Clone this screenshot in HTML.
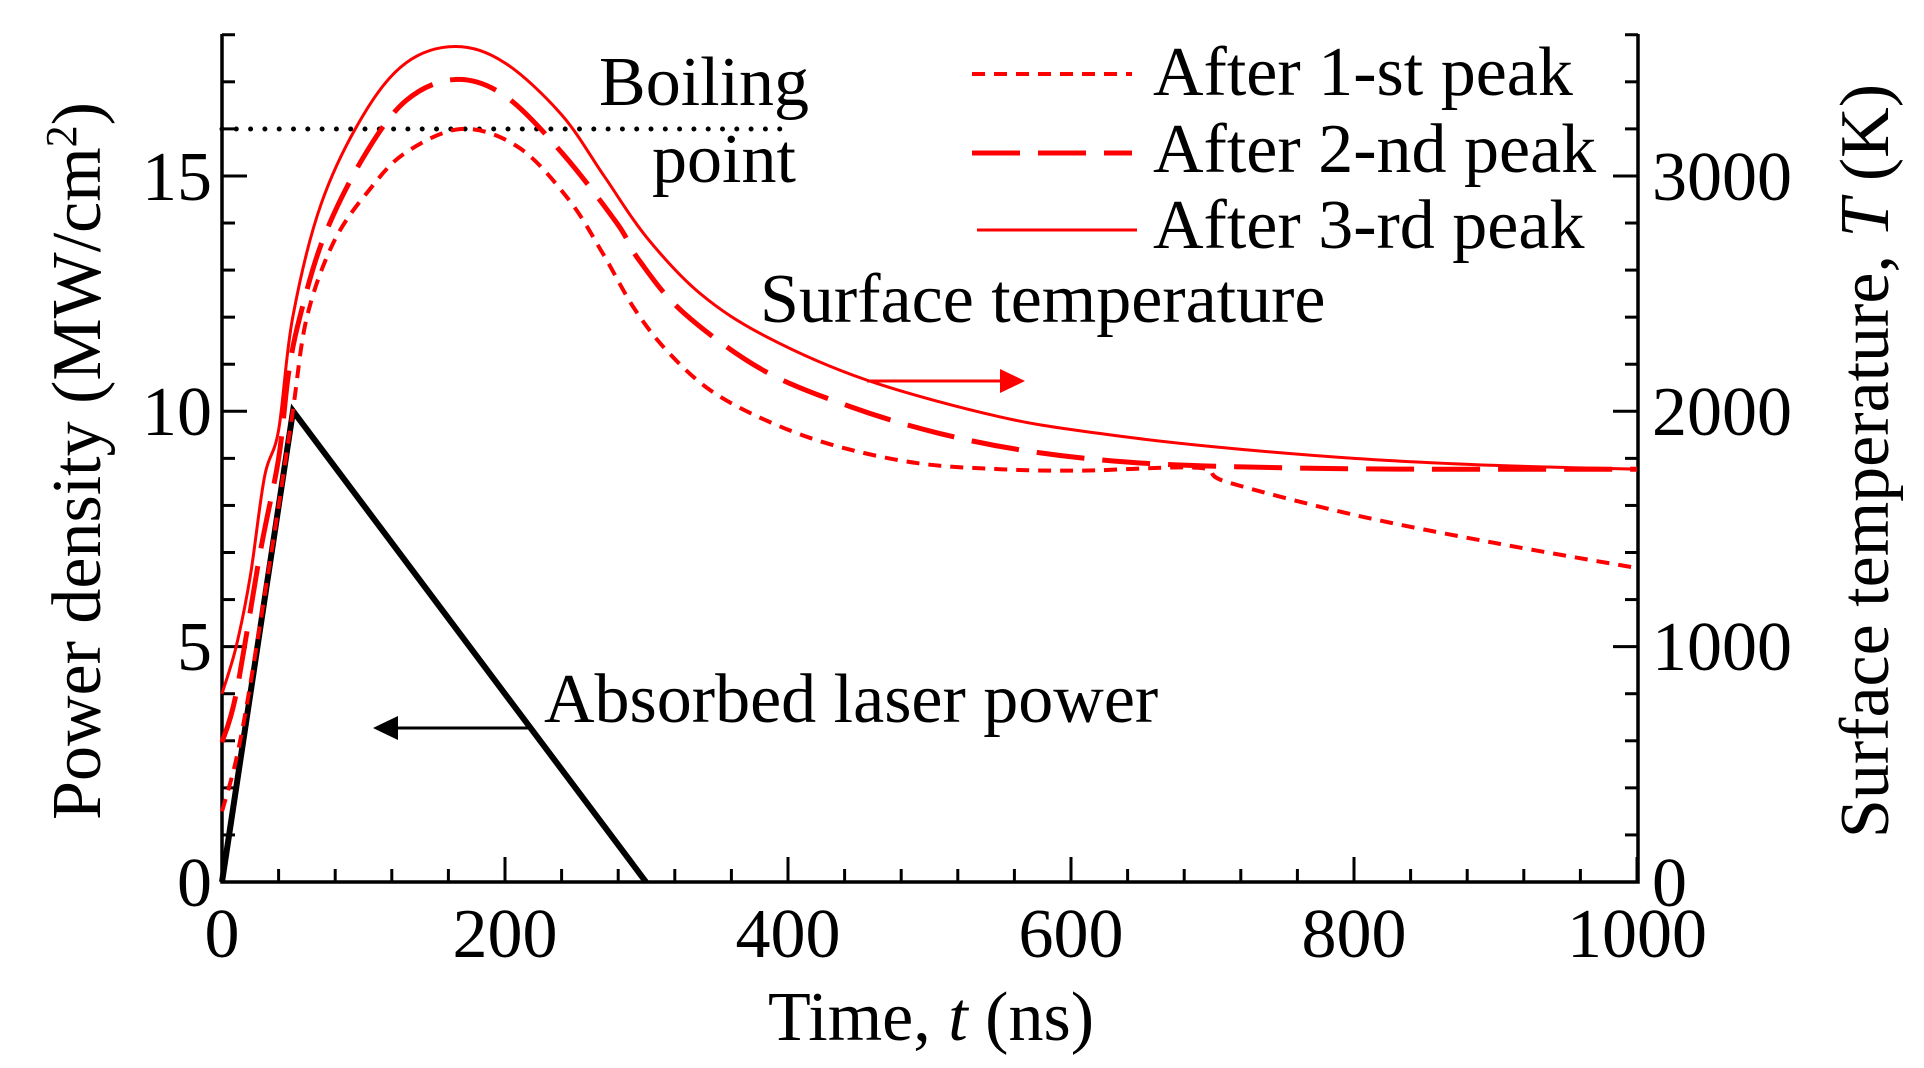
<!DOCTYPE html>
<html><head><meta charset="utf-8"><style>
html,body{margin:0;padding:0;background:#fff;}
svg{display:block;font-family:"Liberation Serif",serif;}
</style></head><body>
<svg id="s" width="1924" height="1068" viewBox="0 0 1924 1068" xmlns="http://www.w3.org/2000/svg">
<g id="ticks" stroke="#000" stroke-width="3"></g>
<path d="M222,34 V882 H1638 V34" fill="none" stroke="#000" stroke-width="3.5"/>
<line x1="222" y1="129" x2="790" y2="129" stroke="#000" stroke-width="5" stroke-linecap="round" stroke-dasharray="0 14.3"/>
<polyline points="222,882 293,411 646,882" fill="none" stroke="#000" stroke-width="6"/>
<g id="curves" fill="none" stroke="#f00"></g>
<line x1="972" y1="74" x2="1132" y2="74" stroke="#f00" stroke-width="4" stroke-dasharray="13 9"/>
<line x1="972" y1="153" x2="1132" y2="153" stroke="#f00" stroke-width="5" stroke-dasharray="48 18"/>
<line x1="977" y1="230" x2="1137" y2="230" stroke="#f00" stroke-width="3"/>
<line x1="867" y1="381" x2="1005" y2="381" stroke="#f00" stroke-width="3"/>
<polygon points="1025,381 1000,369 1000,393" fill="#f00"/>
<line x1="395" y1="728" x2="530" y2="728" stroke="#000" stroke-width="3"/>
<polygon points="373,728 398,716 398,740" fill="#000"/>
<g font-size="70" fill="#000">
<text x="1153" y="95">After 1-st peak</text>
<text x="1153" y="172">After 2-nd peak</text>
<text x="1153" y="248">After 3-rd peak</text>
<text x="599" y="105">Boiling</text>
<text x="652" y="182">point</text>
<text x="760" y="322">Surface temperature</text>
<text x="544" y="722">Absorbed laser power</text>
<text x="931" y="1040" text-anchor="middle">Time, <tspan font-style="italic">t</tspan> (ns)</text>
<g text-anchor="middle">
<text x="222" y="957">0</text><text x="505" y="957">200</text><text x="788" y="957">400</text>
<text x="1071" y="957">600</text><text x="1354" y="957">800</text><text x="1637" y="957">1000</text>
</g>
<g text-anchor="end">
<text x="212" y="906">0</text><text x="212" y="670">5</text><text x="212" y="435">10</text><text x="212" y="200">15</text>
</g>
<g>
<text x="1652" y="906">0</text><text x="1652" y="670">1000</text><text x="1652" y="435">2000</text><text x="1652" y="200">3000</text>
</g>
<text transform="translate(100,461) rotate(-90)" text-anchor="middle">Power density (MW/cm<tspan font-size="44" dy="-24">2</tspan><tspan dy="24">)</tspan></text>
<text transform="translate(1888,461) rotate(-90)" text-anchor="middle">Surface temperature, <tspan font-style="italic">T</tspan> (K)</text>
</g>
</svg>
<script>
var X=function(t){return 222+t*1.415},Y=function(p){return 882-p*47.07};
var tk=document.getElementById('ticks'),h='';
for(var p=0;p<=18;p++){var y=Y(p),L=(p%5==0)?25:13;h+='<line x1="222" y1="'+y+'" x2="'+(222+L)+'" y2="'+y+'"/>';h+='<line x1="1638" y1="'+y+'" x2="'+(1638-L)+'" y2="'+y+'"/>';}
for(var t=0;t<=1000;t+=40){var x=X(t),L=(t%200==0)?25:13;h+='<line x1="'+x+'" y1="882" x2="'+x+'" y2="'+(882-L)+'"/>';}
tk.innerHTML=h;
function path(d){var P=d.map(function(q){return [X(q[0]),Y(q[1])]});var s='M'+P[0][0]+','+P[0][1];
for(var i=0;i<P.length-1;i++){var p0=P[Math.max(i-1,0)],p1=P[i],p2=P[i+1],p3=P[Math.min(i+2,P.length-1)];
s+=' C'+(p1[0]+(p2[0]-p0[0])/6)+','+(p1[1]+(p2[1]-p0[1])/6)+' '+(p2[0]-(p3[0]-p1[0])/6)+','+(p2[1]-(p3[1]-p1[1])/6)+' '+p2[0]+','+p2[1];}return s;}
var solid=[[0,4.0],[10,5.0],[20,6.5],[30,8.6],[40,9.6],[50,12.0],[70,14.4],[100,16.3],[130,17.4],[165,17.75],[200,17.4],[240,16.3],[270,15.0],[300,13.7],[338,12.5],[385,11.58],[456,10.66],[550,9.88],[620,9.53],[700,9.25],[800,9.0],[900,8.85],[1000,8.77]];
var dashed=[[0,2.97],[10,4.0],[27,7.0],[40,9.0],[47,10.8],[55,12.0],[72,13.7],[100,15.4],[130,16.6],[165,17.05],[200,16.7],[240,15.5],[279,14.0],[295,13.2],[326,12.1],[382,10.88],[444,10.1],[507,9.53],[573,9.14],[650,8.9],[750,8.8],[850,8.77],[1000,8.77]];
var dotted=[[0,1.5],[10,2.6],[20,4.2],[38,7.6],[50,10.0],[60,12.0],[79,13.6],[104,14.7],[130,15.5],[170,16.0],[210,15.6],[245,14.5],[269,13.36],[291,12.2],[314,11.3],[345,10.45],[385,9.8],[432,9.28],[491,8.9],[550,8.77],[608,8.74],[690,8.8],[710,8.5],[800,7.8],[900,7.2],[1000,6.67]];
document.getElementById('curves').innerHTML=
'<path d="'+path(solid)+'" stroke-width="3"/>'+
'<path d="'+path(dashed)+'" stroke-width="5" stroke-dasharray="48 18"/>'+
'<path d="'+path(dotted)+'" stroke-width="4" stroke-dasharray="13 9"/>';
</script>
</body></html>
